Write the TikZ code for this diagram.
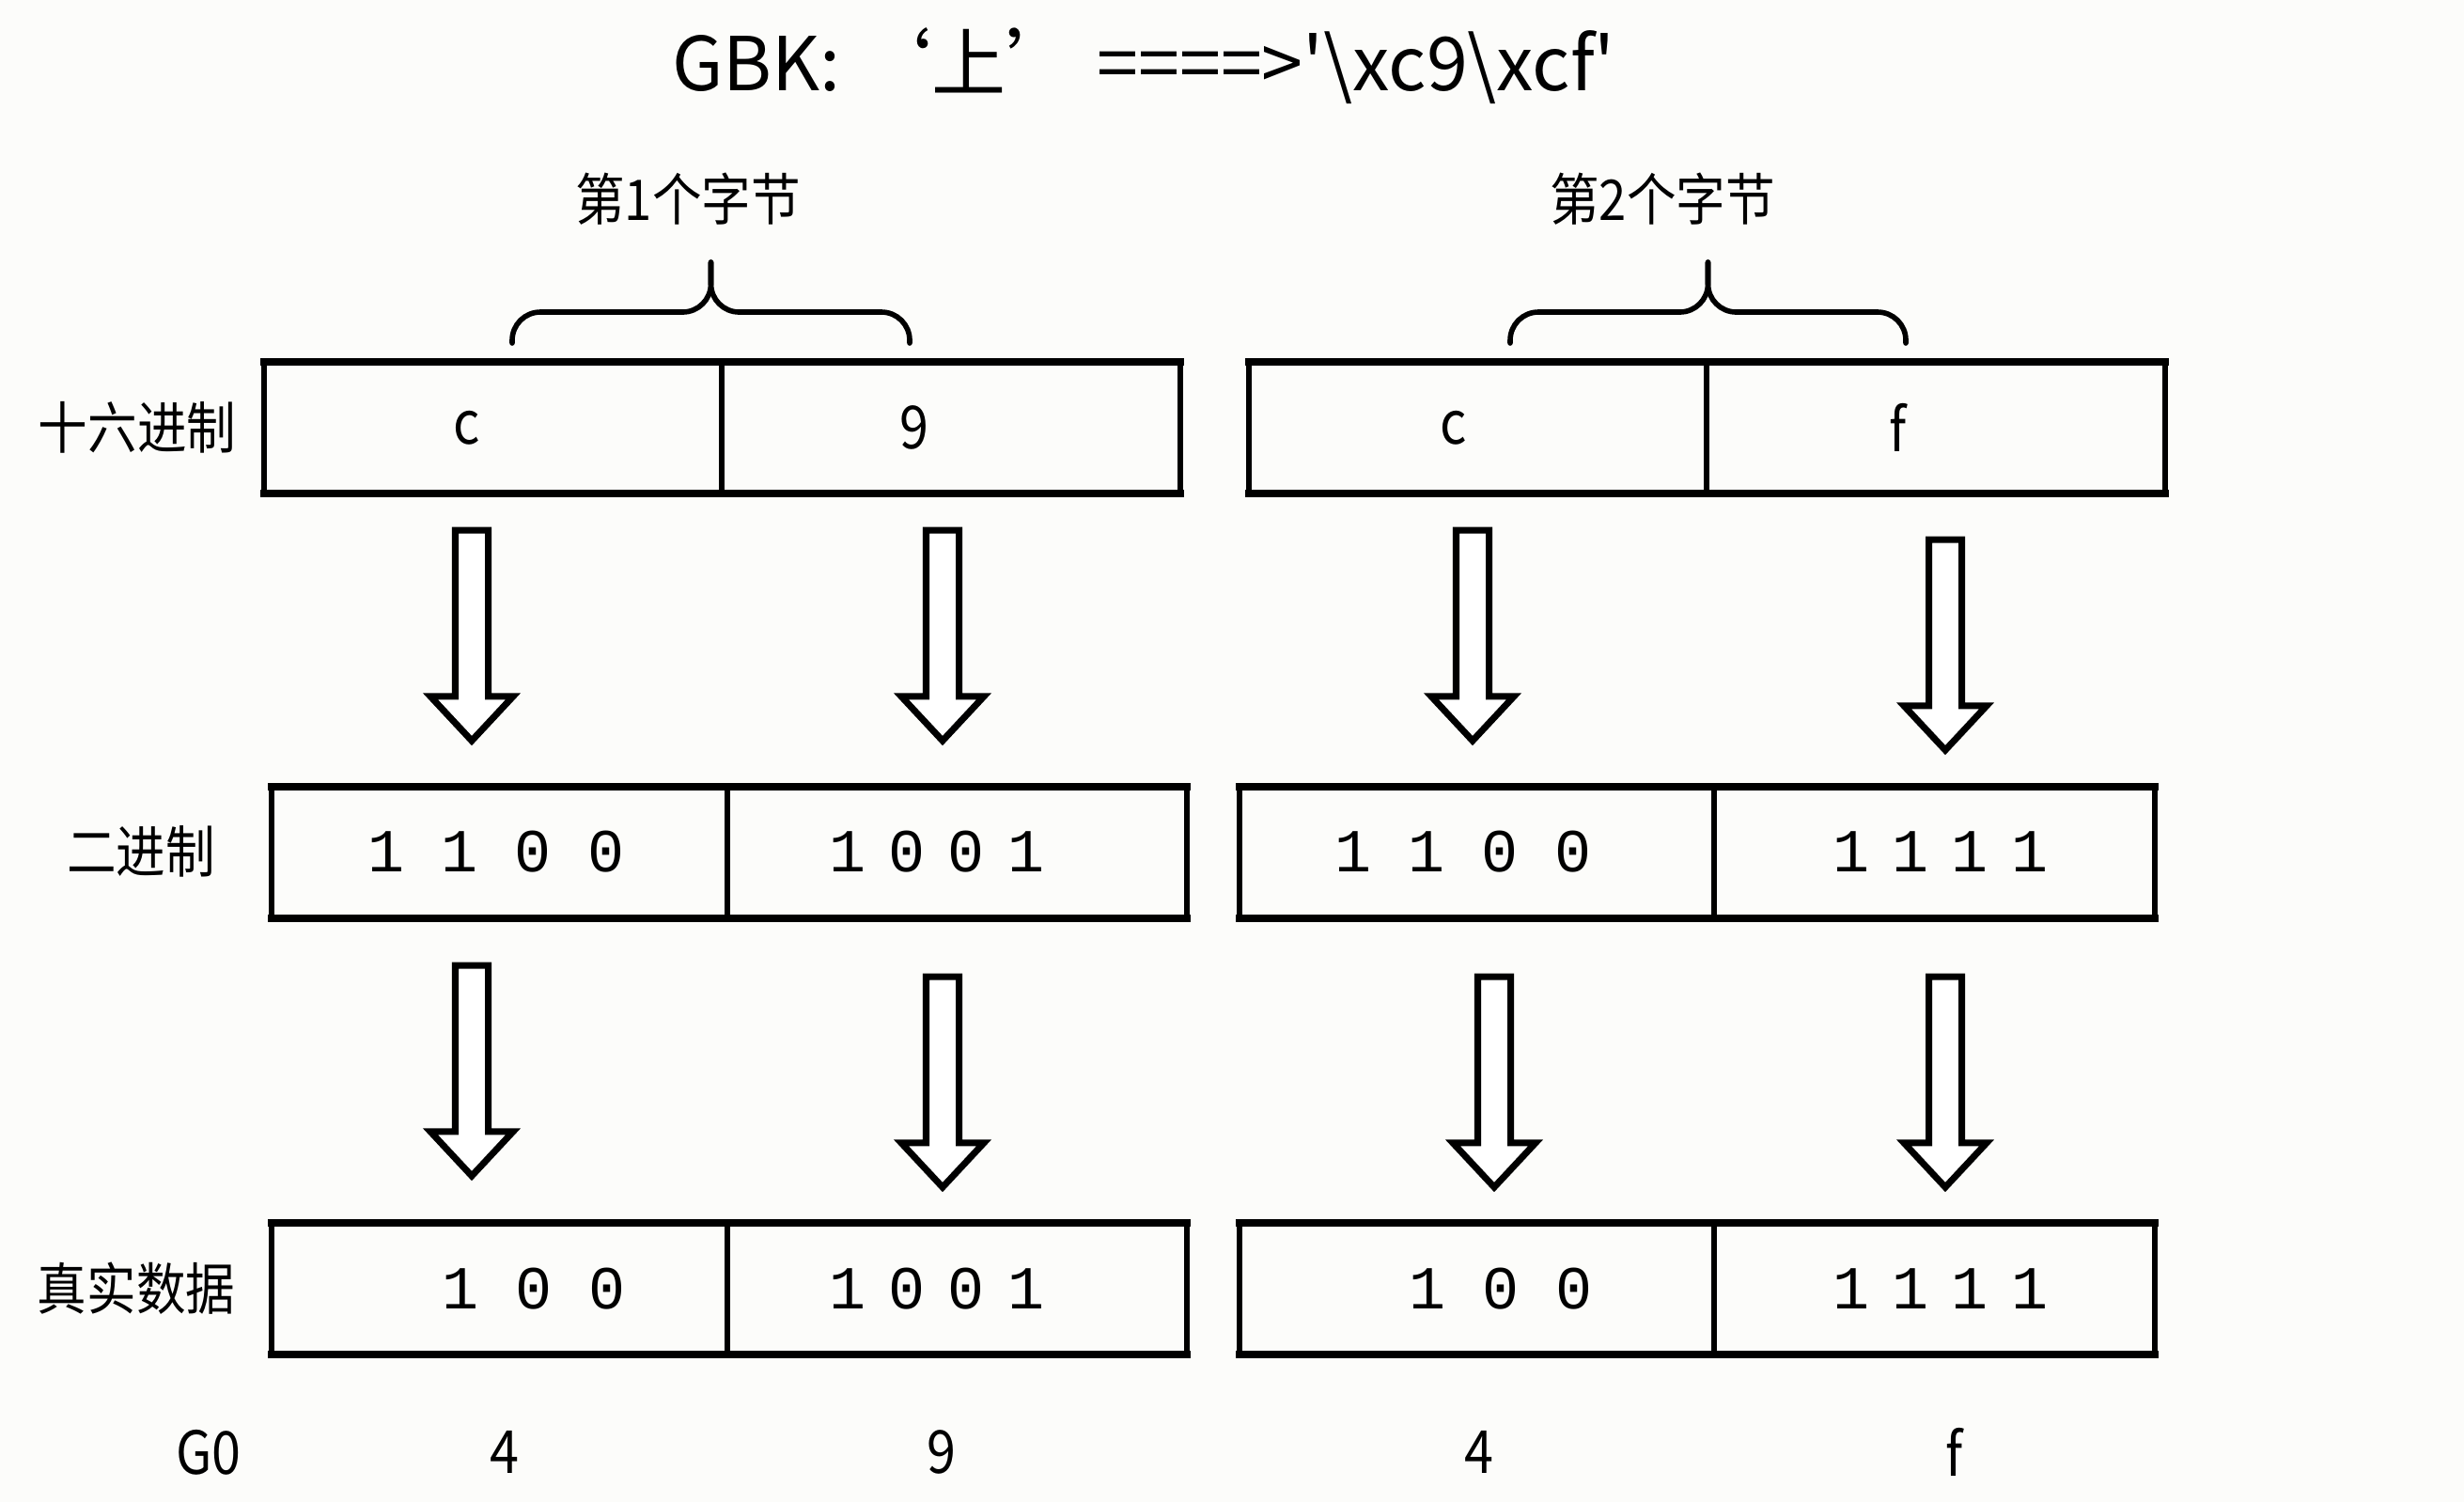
\documentclass[tikz,border=0pt]{standalone}
\usepackage{fontspec}
\setmainfont{Noto Sans CJK SC}[FakeStretch=0.88]
\newfontfamily\titlefont{Noto Sans CJK SC}
\newfontfamily\bitfont{Liberation Mono}
\usetikzlibrary{positioning, shapes.arrows, calc}

\definecolor{paper}{RGB}{252,252,250}

% brace over one byte: left x, right x, base y
\newcommand{\bytebrace}[3]{%
  \draw[bracestyle] (#1,#3) |- ({(#1+#2)/2},#3+0.33) -- ({(#1+#2)/2},#3+0.86);
  \draw[bracestyle] (#2,#3) |- ({(#1+#2)/2},#3+0.33) -- ({(#1+#2)/2},#3+0.86);
}
\newcommand{\tg}{\hspace{.37em}}

\begin{document}
\begin{tikzpicture}[
        cell/.style={rectangle, draw=black, line width=1.5pt, outer sep=0pt, inner sep=0pt, minimum height=1.4cm, anchor=west},
        rimline/.style={line width=2.3pt, line cap=rect},
        rowlabel/.style={font=\fontsize{17}{20}\selectfont},
        hexdigit/.style={font=\fontsize{18}{21}\selectfont},
        bits/.style={font=\bitfont\fontsize{18.5}{22}\selectfont},
        blockarrow/.style={single arrow, draw=black, fill=white, line width=2pt, rotate=-90,
            minimum height=2.24cm, minimum width=0.81cm, inner xsep=0pt, inner ysep=0.14cm,
            single arrow head extend=0.265cm, single arrow tip angle=86, anchor=tail},
        bracestyle/.style={line width=1.6pt, rounded corners=0.3cm, line cap=round}
    ]
        \fill[paper] (0,0) rectangle (26.22,-15.98);

        % --- TITLE ---
        \node (title) at (12.17,-0.70) {\titlefont\fontsize{22.5}{26}\selectfont GBK:~‘上’~====>\textquotesingle\textbackslash xc9\textbackslash xcf\textquotesingle};

        % --- BYTES ---
        \node[rowlabel] (byte1) at (7.32,-2.12) {第1个字节};
        \node[rowlabel] (byte2) at (17.69,-2.12) {第2个字节};
        \bytebrace{5.45}{9.68}{-3.65}
        \bytebrace{16.07}{20.28}{-3.65}

        % --- ROW LABELS ---
        \node[rowlabel] (hexlbl) at (1.46,-4.55) {十六进制};
        \node[rowlabel] (binlbl) at (1.50,-9.06) {二进制};
        \node[rowlabel] (reallbl) at (1.45,-13.71) {真实数据};

        % --- CELLS ---
        \node[cell, minimum width=4.87cm] (h1) at (2.81,-4.55) {};
        \node[cell, minimum width=4.88cm, right=0pt of h1] (h2) {};
        \node[cell, minimum width=4.87cm] (h3) at (13.29,-4.55) {};
        \node[cell, minimum width=4.88cm, right=0pt of h3] (h4) {};

        \node[cell, minimum width=4.85cm] (b1) at (2.89,-9.07) {};
        \node[cell, minimum width=4.89cm, right=0pt of b1] (b2) {};
        \node[cell, minimum width=5.05cm] (b3) at (13.19,-9.07) {};
        \node[cell, minimum width=4.69cm, right=0pt of b3] (b4) {};

        \node[cell, minimum width=4.85cm] (r1) at (2.89,-13.71) {};
        \node[cell, minimum width=4.89cm, right=0pt of r1] (r2) {};
        \node[cell, minimum width=5.05cm] (r3) at (13.19,-13.71) {};
        \node[cell, minimum width=4.69cm, right=0pt of r3] (r4) {};

        \foreach \a/\b in {h1/h2, h3/h4, b1/b2, b3/b4, r1/r2, r3/r4} {
            \draw[rimline] (\a.north west) -- (\b.north east);
            \draw[rimline] (\a.south west) -- (\b.south east);
        }

        % --- CELL TEXT ---
        \node[hexdigit] (hc1) at (4.97,-4.55) {c};
        \node[hexdigit] (hc2) at (9.73,-4.55) {9};
        \node[hexdigit] (hc3) at (15.47,-4.55) {c};
        \node[hexdigit] (hc4) at (20.20,-4.55) {f};

        \node[bits] (bc1) at (5.28,-9.06) {1 1 0 0};
        \node[bits] (bc2) at (9.97,-9.06) {1\tg0\tg0\tg1};
        \node[bits] (bc3) at (15.57,-9.06) {1 1 0 0};
        \node[bits] (bc4) at (20.65,-9.06) {1\tg1\tg1\tg1};

        \node[bits] (rc1) at (5.68,-13.71) {1 0 0};
        \node[bits] (rc2) at (9.97,-13.71) {1\tg0\tg0\tg1};
        \node[bits] (rc3) at (15.97,-13.71) {1 0 0};
        \node[bits] (rc4) at (20.65,-13.71) {1\tg1\tg1\tg1};

        % --- ARROWS ---
        \foreach \n/\x/\y in {1/5.02/-5.605, 2/10.03/-5.605, 3/15.67/-5.605, 4/20.70/-5.705,
                              5/5.02/-10.235, 6/10.03/-10.355, 7/15.90/-10.355, 8/20.70/-10.355}
            \node[blockarrow] (arr\n) at (\x,\y) {};

        % --- BOTTOM ---
        \node[hexdigit] (g0) at (2.22,-15.45) {G0};
        \node[hexdigit] (n1) at (5.37,-15.45) {4};
        \node[hexdigit] (n2) at (10.02,-15.45) {9};
        \node[hexdigit] (n3) at (15.74,-15.45) {4};
        \node[hexdigit] (n4) at (20.80,-15.45) {f};

    \end{tikzpicture}
\end{document}
